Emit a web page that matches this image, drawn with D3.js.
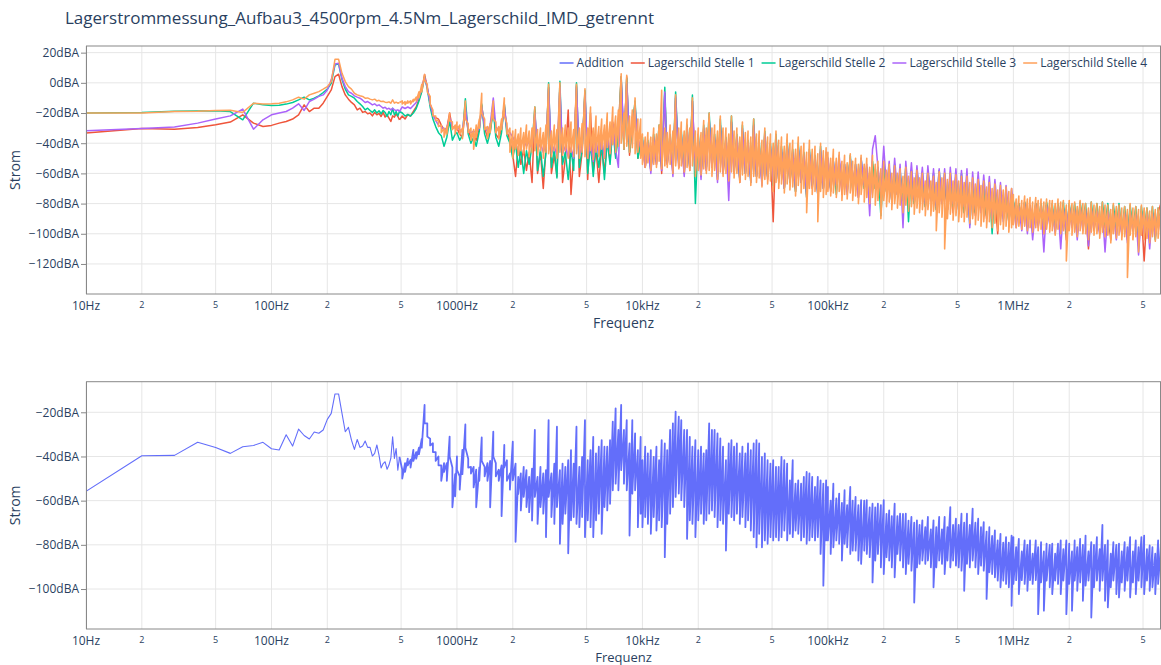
<!DOCTYPE html>
<html><head><meta charset="utf-8">
<script src="https://cdn.jsdelivr.net/npm/d3@7"></script>
<style>
body{margin:0;background:#fff;}
text{font-family:"Open Sans",sans-serif;fill:#2a3f5f;}
</style>
</head><body>
<svg id="c" width="1161" height="665"></svg>
<script>
const chartTitle = "Lagerstrommessung_Aufbau3_4500rpm_4.5Nm_Lagerschild_IMD_getrennt";
const seriesNames = ["Addition","Lagerschild Stelle 1","Lagerschild Stelle 2","Lagerschild Stelle 3","Lagerschild Stelle 4"];
const seriesColors = ["#636efa","#EF553B","#00CC96","#AB63FA","#FFA15A"];
const xTickValues = [10,20,50,100,200,500,1000,2000,5000,1e4,2e4,5e4,1e5,2e5,5e5,1e6,2e6,5e6];
const xTickLabels = ["10Hz","2","5","100Hz","2","5","1000Hz","2","5","10kHz","2","5","100kHz","2","5","1MHz","2","5"];
const yTicksTop = [20,0,-20,-40,-60,-80,-100,-120];
const yTicksBottom = [-20,-40,-60,-80,-100];
const xAxisTitle = "Frequenz";
const yAxisTitle = "Strom";

// frequencies (Hz)
const freqLow = [10,20,30,40,50,60,70,80,90,100,110,120,130,140,150,160,170,180,190,200,210,220,230,240,250,260,270,280,290,300,310,320,330,340,350,360,370,380,390,400,410,420,430,440,450,460,470,480,490];
const freqGrid = [507,525,543,562,582,603,624,646,669,692,717,742,768,795,823,852,882,913,945,978,
1e3,1.035e3,1.07e3,1.11e3,1.15e3,1.19e3,1.23e3,1.27e3,1.32e3,1.36e3,1.41e3,1.46e3,1.51e3,1.57e3,1.62e3,1.68e3,1.74e3,1.80e3,1.86e3,1.93e3,2.00e3,2.07e3,2.14e3,2.21e3,2.29e3,2.37e3,2.45e3,2.54e3,2.63e3,2.72e3,2.82e3,2.92e3,3.02e3,3.12e3,3.23e3,3.35e3,3.46e3,3.59e3,3.71e3,3.84e3,3.98e3,4.12e3,4.26e3,4.41e3,4.57e3,4.73e3,4.90e3,5.07e3,5.25e3,5.43e3,5.62e3,5.82e3,6.03e3,6.24e3,6.46e3,6.69e3,6.92e3,7.17e3,7.42e3,7.68e3,7.95e3,8.23e3,8.52e3,8.82e3,9.13e3,9.45e3,9.78e3,
1e4,1.035e4,1.07e4,1.11e4,1.15e4,1.19e4,1.23e4,1.27e4,1.32e4,1.36e4,1.41e4,1.46e4,1.51e4,1.57e4,1.62e4,1.68e4,1.74e4,1.80e4,1.86e4,1.93e4,2.00e4,2.07e4,2.14e4,2.21e4,2.29e4,2.37e4,2.45e4,2.54e4,2.63e4,2.72e4,2.82e4,2.92e4,3.02e4,3.12e4,3.23e4,3.35e4,3.46e4,3.59e4,3.71e4,3.84e4,3.98e4,4.12e4,4.26e4,4.41e4,4.57e4,4.73e4,4.90e4,5.07e4,5.25e4,5.43e4,5.62e4,5.82e4,6.03e4,6.24e4,6.46e4,6.69e4,6.92e4,7.17e4,7.42e4,7.68e4,7.95e4,8.23e4,8.52e4,8.82e4,9.13e4,9.45e4,9.78e4,
1e5,1.035e5,1.07e5,1.11e5,1.15e5,1.19e5,1.23e5,1.27e5,1.32e5,1.36e5,1.41e5,1.46e5,1.51e5,1.57e5,1.62e5,1.68e5,1.74e5,1.80e5,1.86e5,1.93e5,2.00e5,2.07e5,2.14e5,2.21e5,2.29e5,2.37e5,2.45e5,2.54e5,2.63e5,2.72e5,2.82e5,2.92e5,3.02e5,3.12e5,3.23e5,3.35e5,3.46e5,3.59e5,3.71e5,3.84e5,3.98e5,4.12e5,4.26e5,4.41e5,4.57e5,4.73e5,4.90e5,5.07e5,5.25e5,5.43e5,5.62e5,5.82e5,6.03e5,6.24e5,6.46e5,6.69e5,6.92e5,7.17e5,7.42e5,7.68e5,7.95e5,8.23e5,8.52e5,8.82e5,9.13e5,9.45e5,9.78e5,
1e6,1.035e6,1.07e6,1.11e6,1.15e6,1.19e6,1.23e6,1.27e6,1.32e6,1.36e6,1.41e6,1.46e6,1.51e6,1.57e6,1.62e6,1.68e6,1.74e6,1.80e6,1.86e6,1.93e6,2.00e6,2.07e6,2.14e6,2.21e6,2.29e6,2.37e6,2.45e6,2.54e6,2.63e6,2.72e6,2.82e6,2.92e6,3.02e6,3.12e6,3.23e6,3.35e6,3.46e6,3.59e6,3.71e6,3.84e6,3.98e6,4.12e6,4.26e6,4.41e6,4.57e6,4.73e6,4.90e6,5.07e6,5.25e6,5.43e6,5.62e6,5.82e6,6.03e6,6.24e6];

// Lagerschild Stelle 1 (dBA)
const s1Low = [-33.3,-30.2,-30.7,-29.6,-27.8,-26,-21.2,-26.7,-28.9,-28.2,-26.7,-25.6,-24,-21.2,-14.6,-19,-16.8,-16.8,-13.5,-9,-4.7,4.1,5.7,-2.5,-8,-10.8,-13,-14.6,-17.9,-16.8,-19.6,-19,-20.5,-20,-21.9,-19.6,-21.2,-20.2,-22.3,-19.6,-22.7,-21.2,-23.4,-25.6,-21.9,-22.7,-20.5,-22.3,-24.5];
const s1Grid = [-22,-24,-21,-22,-19,-16,-11,-5,5.5,-3,-14,-22,-23,-24,-28,-31,-30,-20,-30,-29,
-30,-34,-36,-18,-32,-36,-34,-38,-30,-15,-30,-36,-32,-16,-34,-37,-30,-14,-32,-38,
-48,-62,-42,-54,-44,-58,-46,-66,-18,-60,-46,-70,-44,-3,-60,-48,-62,-2,-66,-50,-18,-74,-48,-2,-62,-46,-6,-64,-20,-58,-44,-66,-42,-60,-36,-52,-26,-48,-30,4,-44,4,-48,-28,-14,-50,-38,
-40,-56,-42,-58,-38,-54,-32,-60,-7,-54,-38,-60,-10,-56,-36,-60,-32,-58,-12,-60,-38,-62,-32,-58,-24,-56,-38,-64,-28,-60,-40,-62,-26,-60,-38,-66,-32,-60,-42,-64,-28,-62,-42,-66,-36,-64,-44,-92,-38,-66,-46,-70,-42,-66,-48,-72,-44,-66,-50,-76,-48,-70,-52,-74,-46,-70,-52,
-54,-72,-56,-70,-52,-74,-56,-70,-50,-72,-58,-76,-54,-70,-58,-80,-54,-70,-60,-76,-56,-72,-60,-78,-58,-74,-62,-76,-60,-78,-64,-80,-62,-76,-66,-82,-64,-78,-66,-84,-66,-80,-68,-84,-68,-86,-66,-82,-70,-86,-68,-84,-72,-88,-70,-84,-74,-90,-70,-86,-76,-100,-72,-88,-74,-92,-76,
-79,-92,-80,-94,-79,-96,-81,-98,-80,-94,-82,-100,-81,-92,-83,-98,-82,-96,-83,-104,-82,-94,-84,-100,-81,-96,-84,-110,-83,-98,-85,-100,-84,-96,-86,-104,-85,-98,-85,-100,-86,-104,-84,-98,-87,-106,-85,-118,-87,-104,-86,-100,-86,-80];

// Lagerschild Stelle 2 (dBA)
const s2Low = [-20,-19.6,-18.8,-18.6,-18.5,-19,-24.5,-13.5,-14.6,-15,-14.8,-14.1,-13,-11.3,-9.5,-11.3,-10.2,-8.6,-6.4,-4.2,-0.3,11.9,12.5,2.2,-4.2,-8,-9,-10.2,-12.4,-13.9,-15.7,-17.9,-16.8,-18.3,-19.6,-17.9,-20,-18.5,-20.5,-18.3,-19.6,-22.3,-19,-21.2,-16.8,-21.2,-19,-21.9,-19];
const s2Grid = [-20,-22,-21,-22,-20,-17,-12,-6,4,-4,-16,-24,-29,-33,-35,-42,-36,-25,-38,-34,
-33,-38,-35,-10.5,-34,-40,-36,-42,-32,-14,-34,-40,-33,-18,-36,-42,-33,-14,-35,-40,
-50,-40,-56,-44,-60,-45,-54,-42,-16,-58,-44,-62,-46,0,-56,-44,-63,1,-54,-46,-64,-44,-58,0,-56,-44,-5,-60,-40,-62,-42,-56,-40,-64,-38,-54,-30,-50,-34,4,-44,3,-46,-30,-12,-50,-40,
-36,-54,-38,-58,-34,-52,-28,-56,-3,-52,-34,-58,-6,-54,-32,-58,-28,-56,-8,-80,-34,-60,-28,-56,-20,-54,-34,-62,-24,-58,-36,-62,-22,-58,-34,-64,-28,-60,-38,-66,-24,-62,-38,-66,-32,-62,-40,-68,-34,-64,-42,-70,-38,-66,-44,-72,-40,-66,-46,-76,-44,-68,-48,-74,-42,-70,-48,
-50,-70,-52,-74,-52,-68,-54,-72,-48,-70,-54,-72,-50,-70,-56,-74,-52,-70,-56,-88,-54,-72,-56,-78,-54,-74,-58,-78,-56,-92,-58,-80,-58,-76,-60,-82,-58,-78,-60,-84,-58,-80,-60,-84,-60,-82,-62,-84,-60,-86,-62,-94,-64,-86,-64,-84,-66,-88,-68,-100,-70,-88,-72,-90,-74,-92,-74,
-78,-90,-80,-92,-79,-90,-82,-96,-80,-92,-80,-94,-79,-90,-80,-98,-80,-92,-79,-100,-80,-94,-80,-98,-79,-92,-80,-104,-79,-95,-80,-98,-79,-94,-80,-100,-81,-96,-80,-98,-82,-102,-81,-96,-82,-108,-82,-98,-83,-100,-82,-104,-83,-96];

// Lagerschild Stelle 3 (dBA)
const s3Low = [-31.8,-30.2,-29.3,-26.7,-24,-21.9,-17.4,-30.7,-24.5,-21.2,-20,-19,-16.8,-13.9,-18.3,-12.4,-10.8,-9,-8,-4.7,2,12.5,13,3,-2.5,-5.8,-6.9,-8.6,-9.5,-10.2,-11.5,-13,-12.4,-13.5,-14.6,-13.9,-15.2,-14.6,-15.7,-16.8,-16.2,-17.4,-16.8,-17.9,-16.8,-17.9,-18.3,-17.9,-19];
const s3Grid = [-16,-17,-16,-17,-15,-13,-9,-4,3.7,-3,-14,-21,-25,-28,-29,-31,-30,-23,-29,-30,
-29,-31,-32,-16,-31,-33,-32,-33,-30,-16,-30,-32,-28,-10,-29,-32,-30,-16,-31,-33,
-36,-40,-37,-41,-38,-42,-39,-43,-20,-44,-40,-46,-41,-4,-47,-42,-48,-3,-47,-42,-49,-43,-50,-3,-48,-42,-8,-50,-40,-52,-38,-48,-36,-50,-34,-46,-28,-44,-56,2,-36,0,-40,-30,-16,-44,-38,
-38,-56,-40,-60,-36,-54,-30,-58,-6,-54,-36,-62,-9,-56,-34,-62,-30,-56,-12,-58,-36,-64,-30,-58,-24,-56,-36,-66,-28,-60,-38,-78,-26,-58,-36,-64,-30,-60,-40,-66,-28,-62,-42,-68,-34,-62,-42,-66,-38,-64,-44,-70,-40,-64,-46,-70,-42,-66,-48,-74,-46,-68,-50,-74,-44,-70,-46,
-50,-70,-52,-68,-48,-70,-54,-74,-50,-66,-54,-76,-50,-68,-54,-88,-44,-35,-56,-72,-42,-70,-52,-78,-50,-74,-54,-96,-52,-76,-53,-78,-55,-74,-56,-80,-55,-78,-57,-82,-57,-80,-57,-84,-56,-80,-57,-84,-58,-82,-57,-96,-59,-84,-59,-86,-61,-84,-62,-90,-64,-86,-66,-92,-68,-88,-70,
-80,-96,-82,-98,-80,-100,-82,-104,-81,-96,-82,-112,-81,-94,-83,-100,-82,-110,-83,-98,-82,-96,-84,-104,-82,-98,-84,-108,-83,-96,-85,-100,-84,-112,-85,-98,-86,-104,-85,-100,-86,-106,-86,-98,-87,-114,-86,-100,-87,-110,-86,-102,-87,-98];

// Lagerschild Stelle 4 (dBA): single values at low frequencies, then per-bin max / min
const s4Low = [-20,-20,-19,-18.8,-18.3,-18.1,-19.6,-13.5,-14.1,-13.9,-13.5,-12.6,-11.3,-9.5,-10.8,-8,-6.9,-5.8,-4.2,-2.5,0.8,15.6,15.6,6.3,0.8,-2.5,-4.2,-6.9,-8,-8.6,-9,-10.2,-10,-10.8,-11.3,-10.8,-12,-11.6,-12.4,-12.2,-12.8,-13,-12.6,-13.5,-11.3,-13.5,-12.8,-13.5,-13];
const s4GridMax = [-12,-12.5,-12,-12,-11,-9.5,-6,-1,5.5,-1,-9,-18,-22,-25,-28,-30,-29,-20,-26,-28,
-26,-28,-30,-12,-27,-30,-31,-28,-24,-7,-24,-29,-27,-12,-26,-29,-24,-10,-27,-30,
-32,-31,-34,-30,-33,-28,-32,-30,-16,-31,-30,-33,-28,-1,-32,-28,-31,0,-30,-28,-30,-26,-31,-1,-30,-27,-4,-30,-16,-30,-22,-29,-24,-28,-20,-26,-16,-22,-18,6,-20,5,-22,-18,-10,-24,-24,
-34,-36,-33,-36,-30,-34,-28,-5,-30,-33,-28,-32,-8,-30,-26,-32,-24,-30,-10,-32,-30,-33,-25,-30,-20,-30,-28,-32,-22,-30,-30,-34,-22,-32,-30,-36,-26,-33,-32,-36,-24,-34,-32,-38,-30,-36,-34,-40,-32,-38,-36,-42,-34,-40,-38,-44,-36,-42,-40,-46,-38,-44,-42,-47,-40,-45,-43,
-46,-50,-44,-50,-46,-52,-48,-53,-47,-52,-50,-54,-48,-54,-50,-56,-48,-54,-52,-57,-52,-58,-54,-60,-55,-60,-57,-62,-56,-62,-59,-63,-58,-63,-60,-65,-60,-65,-62,-66,-59,-63,-60,-64,-60,-65,-61,-65,-62,-66,-62,-66,-63,-67,-64,-68,-65,-69,-66,-70,-67,-71,-68,-71,-69,-72,-70,
-74,-77,-75,-78,-75,-77,-76,-79,-76,-78,-77,-79,-77,-78,-78,-80,-77,-79,-78,-81,-78,-80,-79,-82,-78,-80,-80,-83,-79,-81,-80,-82,-79,-81,-81,-84,-80,-82,-81,-83,-82,-84,-80,-83,-82,-84,-81,-83,-83,-85,-82,-84,-83,-80];
const s4GridMin = [-14,-14.5,-13.5,-14,-12.5,-12,-10,-6,2,-6,-14,-22,-25,-29,-33,-36,-34,-25,-31,-34,
-31,-34,-37,-24,-33,-38,-44,-36,-30,-20,-31,-37,-33,-24,-33,-37,-31,-22,-34,-46,
-50,-44,-48,-45,-47,-44,-49,-46,-45,-48,-45,-50,-46,-47,-49,-45,-50,-46,-48,-45,-50,-46,-49,-47,-50,-46,-49,-50,-45,-51,-46,-49,-44,-50,-43,-47,-41,-46,-42,-40,-44,-42,-46,-43,-47,-46,-50,
-54,-56,-53,-58,-54,-56,-52,-57,-55,-56,-54,-60,-55,-57,-55,-59,-56,-58,-55,-62,-58,-61,-57,-60,-58,-62,-58,-64,-59,-62,-60,-65,-59,-63,-60,-66,-61,-64,-62,-68,-62,-66,-63,-69,-64,-67,-65,-72,-66,-70,-67,-73,-67,-71,-69,-75,-68,-73,-70,-86,-70,-74,-72,-92,-72,-76,-74,
-72,-75,-73,-76,-72,-78,-74,-77,-73,-78,-75,-80,-74,-79,-76,-80,-76,-81,-78,-90,-78,-82,-79,-84,-80,-83,-81,-86,-81,-85,-82,-87,-83,-86,-84,-88,-84,-88,-85,-98,-86,-89,-110,-90,-87,-91,-88,-92,-89,-92,-89,-93,-90,-94,-91,-95,-92,-96,-92,-96,-93,-98,-94,-97,-95,-99,-96,
-94,-96,-95,-97,-95,-98,-96,-99,-96,-98,-97,-100,-97,-99,-98,-101,-97,-100,-98,-118,-98,-101,-99,-102,-98,-100,-100,-104,-99,-101,-100,-103,-99,-102,-101,-106,-100,-103,-101,-104,-102,-129,-101,-104,-102,-112,-101,-104,-103,-106,-102,-105,-103,-100];

// Addition (bottom panel): single values at low frequencies, then per-bin max / min
const addLow = [-55.8,-39.7,-39.5,-33.6,-35.9,-38.6,-35.6,-35,-33.6,-36.5,-37.1,-30.2,-35.3,-27.6,-30.5,-32.1,-28.9,-29.5,-28,-23.2,-20.5,-11.7,-11.7,-20.5,-28.8,-26.8,-32.6,-36.8,-32.3,-35.9,-35.3,-33,-35.9,-35.9,-39.8,-38.6,-34.8,-39.4,-45.2,-43.2,-42.4,-45.8,-43.9,-40.9,-31.1,-40.9,-36.4,-46.2,-40.2];
const addGridMax = [-46,-43,-41,-41.5,-37,-38,-36,-32,-16.7,-25,-32,-34,-38,-40,-44,-43,-43,-31,-45,-48,
-40,-49,-37,-25.5,-41,-44.7,-44.7,-46,-45,-31.4,-44.7,-43,-42,-28.8,-43,-46,-44,-34.8,-41.7,-47.7,
-33.3,-43.2,-49.2,-47.7,-44.7,-46.2,-49.2,-45.5,-28,-49.2,-44.7,-47.7,-46.2,-23.5,-47.7,-43.2,-26.5,-46.2,-43.2,-44.7,-41.7,-37.1,-43.2,-26.5,-44.7,-40.2,-23.5,-41.7,-37.1,-31.1,-38.6,-35.6,-32.6,-35.6,-35.6,-32.6,-24.2,-18.2,-28,-16.7,-28,-23.5,-34.1,-23.5,-29.5,-37.1,-31.1,
-41.7,-35.6,-38.6,-37.1,-40.2,-35.6,-41.7,-32.6,-34.1,-37.1,-28,-25,-19.7,-22,-23.5,-28,-28,-31.1,-35.6,-32.6,-37.1,-35.6,-38.6,-37.1,-25,-28,-28,-29.5,-31.8,-35.6,-41.7,-34.1,-32.6,-35.6,-34.1,-38.6,-35.6,-38.6,-34.1,-37.1,-34.1,-32.6,-34.1,-40.2,-38.6,-41.7,-43.2,-41.7,-44.7,-44.7,-40.2,-41.7,-43.2,-50.8,-41.7,-52.3,-50.8,-52.3,-49.2,-47,-47.7,-49.2,-53.8,-49.2,-50.8,-52.3,-50.8,
-53.8,-60,-52.3,-59,-56.8,-61,-55.3,-62,-53.8,-60,-58.3,-62,-59.8,-60,-59.8,-63,-61.4,-63,-61.4,-62,-59.8,-66,-64.4,-67,-61.4,-67,-65.9,-66,-65.9,-69,-67.4,-70,-68.9,-71,-68.9,-72,-67.4,-73,-68.9,-72,-67.4,-73,-67.4,-72,-62.9,-71,-68.2,-71,-65.9,-70,-65.9,-71,-63.6,-70,-68.2,-72,-69.7,-74,-72,-76,-73.5,-78,-75,-79,-76.5,-79,-75.8,
-76.5,-81,-77.3,-83,-78,-80,-78,-84,-78,-81,-78.8,-83,-79.5,-80,-79.5,-84,-79.5,-78,-82,-78,-79.5,-83,-78,-81,-77.3,-80,-75.8,-83,-78.8,-80,-76.5,-82,-71,-80,-78,-84,-78.8,-80,-79.5,-83,-78.8,-81,-76.5,-83,-78,-81,-76.5,-75.8,-82,-80.3,-81.1,-84,-78,-80];
const addGridMin = [-50,-47,-44,-45,-42,-41,-39,-36,-25,-31,-35,-38,-42,-44,-51,-47,-51,-40,-63,-58,
-46,-55,-48,-36,-45,-47.7,-54,-63,-51,-42,-49,-51,-63,-40,-49,-51,-67,-45,-51,-55,
-50.8,-78.6,-57,-64.4,-58.3,-62.9,-65.2,-69,-58.3,-70.5,-62.9,-65.9,-76.5,-58.3,-67.4,-70.5,-62.9,-79.5,-70.5,-65.9,-83.8,-68.9,-67.4,-70.5,-72,-67.4,-76.5,-68.9,-72,-76.5,-68.9,-65.9,-75,-62.9,-64.4,-61.4,-55.3,-52.3,-55.3,-46.2,-52.3,-55.3,-75.8,-56.8,-55.3,-72,-65.9,
-72,-67.4,-70.5,-75,-67.4,-73.5,-68.9,-72,-85.6,-70.5,-65.9,-62.9,-58.3,-56.8,-59.8,-62.9,-77.3,-68.9,-70.5,-76.5,-68.9,-65.9,-70.5,-68.9,-65.9,-64.4,-67.4,-72,-68.9,-70.5,-82.6,-65.9,-67.4,-68.9,-65.9,-70.5,-67.4,-72,-68.9,-73.5,-76.5,-81.1,-75,-81.1,-78,-79.5,-76.5,-78,-76.5,-78,-76.5,-73.5,-78,-75,-76.5,-73.5,-75,-78,-76.5,-79.5,-78,-76.5,-78,-76.5,-84.1,-98.5,-78,
-78,-84.1,-81.1,-78,-79.5,-87.1,-79.5,-81.1,-84.1,-82.6,-82.6,-87.1,-88.6,-82.6,-84.1,-85.6,-97,-87.1,-84.1,-90.2,-93.2,-85.6,-87.1,-90.2,-94.7,-84.1,-87.1,-90.2,-93.2,-88.6,-91.7,-106.1,-90.2,-88.6,-87.1,-88.6,-87.1,-90.2,-99.2,-90.2,-87.1,-88.6,-93.2,-87.1,-90.2,-87.1,-89.4,-90.2,-91.7,-100.8,-88.6,-90.2,-87.1,-90.2,-93.2,-89.4,-91.7,-104.5,-92.4,-93.2,-94.7,-96.2,-99.2,-96.2,-97.7,-99.2,-107.6,
-97.7,-96,-102.3,-96,-97.7,-100.8,-96,-97.7,-96,-111.4,-97,-109.8,-96.2,-99.2,-102.3,-96.2,-97.7,-102.3,-96.2,-111.4,-97.7,-109.8,-96.2,-100.8,-97,-105.3,-98.5,-96.2,-112.9,-99.2,-96.2,-100.8,-96.2,-105.3,-108.3,-99.2,-96.2,-102.3,-103.8,-97,-100.8,-96.2,-103.8,-97,-102.3,-96.2,-99.2,-102.3,-96.2,-100.8,-99.2,-102.3,-97.7,-94.7];

// ---------- drawing ----------
const svg = d3.select("#c");
const left = 86, right = 1161;
const x = d3.scaleLog().domain([10, 6.25e6]).range([left, right]);
const fmtY = d => (d < 0 ? "\u2212" + Math.abs(d) : String(d)) + "dBA";

[["s1",s1Grid],["s2",s2Grid],["s3",s3Grid],["s4max",s4GridMax],["s4min",s4GridMin],["amax",addGridMax],["amin",addGridMin]].forEach(([n,a])=>{
  if (a.length !== freqGrid.length) console.error(n, a.length, freqGrid.length);
});

const lowPts = low => freqLow.map((f,i)=>[f, low[i]]);
const gridPts = grid => freqGrid.map((f,i)=>[f, grid[i]]);
function binGridPts(gmax, gmin) {
  const pts = [];
  freqGrid.forEach((f,i)=>{ pts.push([f, gmax[i]]); pts.push([f, gmin[i]]); });
  return pts;
}
// a series is drawn as its low-frequency part followed (continuously) by its dense part
function parts(low, dense, wLow, wDense) {
  const a = lowPts(low);
  return [{pts:a, width:wLow}, {pts:[a[a.length-1]].concat(dense), width:wDense}];
}

const panels = [
  {id:"p1", top:46, bottom:294, domain:[-139.9, 24.4], ticks:yTicksTop, titleY:328, titleSize:14,
   series: [
     {color:seriesColors[1], parts:parts(s1Low, gridPts(s1Grid), 1.5, 1.5)},
     {color:seriesColors[2], parts:parts(s2Low, gridPts(s2Grid), 1.5, 1.5)},
     {color:seriesColors[3], parts:parts(s3Low, gridPts(s3Grid), 1.5, 1.5)},
     {color:seriesColors[4], parts:parts(s4Low, binGridPts(s4GridMax, s4GridMin), 1.5, 1.6)}
   ]},
  {id:"p2", top:381.7, bottom:629, domain:[-118.1, -6.15], ticks:yTicksBottom, titleY:662, titleSize:13,
   series: [{color:seriesColors[0], parts:parts(addLow, binGridPts(addGridMax, addGridMin), 1.1, 1.8)}]}
];

const defs = svg.append("defs");

panels.forEach(p => {
  const y = d3.scaleLinear().domain(p.domain).range([p.bottom, p.top]);
  const g = svg.append("g");
  g.append("g").selectAll("line").data(xTickValues).join("line")
    .attr("x1", d=>x(d)).attr("x2", d=>x(d)).attr("y1", p.top).attr("y2", p.bottom)
    .attr("stroke", "#e6e6e6").attr("stroke-width", 1);
  g.append("g").selectAll("line").data(p.ticks).join("line")
    .attr("x1", left).attr("x2", right).attr("y1", d=>y(d)).attr("y2", d=>y(d))
    .attr("stroke", "#e6e6e6").attr("stroke-width", 1);
  defs.append("clipPath").attr("id", "clip-"+p.id).append("rect")
    .attr("x", left).attr("y", p.top).attr("width", right-left).attr("height", p.bottom-p.top);
  const line = d3.line().x(d=>x(d[0])).y(d=>y(d[1])).defined(d=>d[1]!=null && !isNaN(d[1]));
  const lg = g.append("g").attr("clip-path", "url(#clip-"+p.id+")");
  p.series.forEach(s => {
    s.parts.forEach(pt => {
      lg.append("path").attr("d", line(pt.pts)).attr("fill","none")
        .attr("stroke", s.color).attr("stroke-width", pt.width)
        .attr("stroke-linejoin","round").attr("stroke-linecap","butt");
    });
  });
  g.append("rect").attr("x", left+0.5).attr("y", p.top).attr("width", right-left-1).attr("height", p.bottom-p.top)
    .attr("fill","none").attr("stroke","#888").attr("stroke-width",1);
  const yAxis = d3.axisLeft(y).tickValues(p.ticks).tickFormat(fmtY).tickSize(5).tickPadding(2);
  const ya = g.append("g").attr("transform", `translate(${left},0)`).call(yAxis);
  ya.select(".domain").remove();
  ya.selectAll(".tick line").attr("stroke","#888");
  ya.selectAll(".tick text").attr("font-size", 12).attr("font-family", "Open Sans").attr("fill","#2a3f5f");
  const xa = g.append("g");
  xTickValues.forEach((v,i) => {
    const lab = xTickLabels[i];
    const major = lab.length > 1;
    xa.append("text").attr("x", x(v)).attr("y", p.bottom + (major ? 16 : 13.5))
      .attr("text-anchor","middle").attr("font-size", major ? 12 : 9).text(lab);
  });
  g.append("text").attr("x", (left+right)/2).attr("y", p.titleY)
    .attr("text-anchor","middle").attr("font-size", p.titleSize).text(xAxisTitle);
  g.append("text").attr("transform", `translate(20,${(p.top+p.bottom)/2}) rotate(-90)`)
    .attr("text-anchor","middle").attr("font-size", 14).text(yAxisTitle);
});

svg.append("text").attr("x", 65).attr("y", 24).attr("font-size", 17).text(chartTitle);

const legend = svg.append("g");
const items = seriesNames.map((n,i) => {
  const gi = legend.append("g");
  gi.append("line").attr("x1",0).attr("x2",14).attr("y1",0).attr("y2",0)
    .attr("stroke", seriesColors[i]).attr("stroke-width", 1.5);
  const t = gi.append("text").attr("x",17).attr("y",4.2).attr("font-size",12).text(n);
  return {g: gi, w: 17 + t.node().getComputedTextLength()};
});
const gap = 7;
const total = d3.sum(items, d=>d.w) + gap*(items.length-1);
let lx = 1147 - total;
items.forEach(it => { it.g.attr("transform", `translate(${lx},63)`); lx += it.w + gap; });
</script>
</body></html>
